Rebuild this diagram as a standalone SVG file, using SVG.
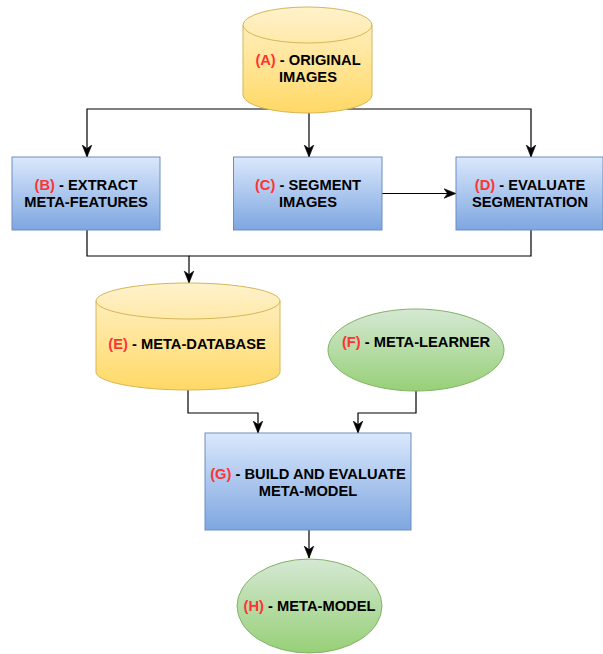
<svg xmlns="http://www.w3.org/2000/svg" width="603" height="654" viewBox="0 0 603 654">
  <defs>
    <linearGradient id="gBlue" x1="0" y1="0" x2="0" y2="1">
      <stop offset="0" stop-color="#dae8fc"/>
      <stop offset="1" stop-color="#7ea6e0"/>
    </linearGradient>
    <linearGradient id="gYellow" x1="0" y1="0" x2="0" y2="1">
      <stop offset="0" stop-color="#fff2cc"/>
      <stop offset="1" stop-color="#ffd966"/>
    </linearGradient>
    <linearGradient id="gGreen" x1="0" y1="0" x2="0" y2="1">
      <stop offset="0" stop-color="#d5e8d4"/>
      <stop offset="1" stop-color="#97d077"/>
    </linearGradient>
    <marker id="arrow" markerUnits="userSpaceOnUse" markerWidth="12" markerHeight="12" viewBox="0 0 10 10" refX="10" refY="5" orient="auto">
      <path d="M0,1 L10,5 L0,9 L3,5 Z" fill="#000" stroke="#000" stroke-width="0.5"/>
    </marker>
    <style>
      .edge { fill: none; stroke: #000; stroke-width: 1.2; }
      .arr { marker-end: url(#arrow); }
      .blue { fill: url(#gBlue); stroke: #6c8ebf; stroke-width: 1; }
      .yellow { fill: url(#gYellow); stroke: #d6b656; stroke-width: 1; }
      .yline { fill: none; stroke: #d6b656; stroke-width: 1; }
      .green { fill: url(#gGreen); stroke: #82b366; stroke-width: 1; }
      text { font-family: "Liberation Sans", Arial, Helvetica, sans-serif; font-size: 14.7px; font-weight: bold; fill: #000; text-anchor: middle; }
      .lbl { fill: #ff3333; }
    </style>
  </defs>

  <g id="connectors">
    <path class="edge arr" d="M309,113 V109 H87 V157"/>
    <path class="edge arr" d="M309,113 V157"/>
    <path class="edge arr" d="M309,109 H531 V157"/>
    <path class="edge arr" d="M382,193.5 H456"/>
    <path class="edge arr" d="M87,230 V256 H189 V283"/>
    <path class="edge" d="M531,230 V256 H189"/>
    <path class="edge arr" d="M188,390 V413 H258 V433"/>
    <path class="edge arr" d="M416,391 V413 H358 V433"/>
    <path class="edge arr" d="M309,530 V558"/>
  </g>

  <g id="nodeA">
    <path class="yellow" d="M243,25 A64.5,18 0 0 1 372,25 V95 A64.5,18 0 0 1 243,95 Z"/>
    <path class="yline" d="M243,25 A64.5,18 0 0 0 372,25"/>
    <text x="308" y="65"><tspan class="lbl">(A)</tspan> - ORIGINAL</text>
    <text x="308" y="82">IMAGES</text>
  </g>

  <g id="nodeB">
    <rect class="blue" x="12" y="157" width="148" height="73"/>
    <text x="86" y="190"><tspan class="lbl">(B)</tspan> - EXTRACT</text>
    <text x="86" y="207">META-FEATURES</text>
  </g>

  <g id="nodeC">
    <rect class="blue" x="233.5" y="157" width="148.5" height="73"/>
    <text x="308" y="190"><tspan class="lbl">(C)</tspan> - SEGMENT</text>
    <text x="308" y="207">IMAGES</text>
  </g>

  <g id="nodeD">
    <rect class="blue" x="456" y="157" width="147" height="73"/>
    <text x="530" y="190"><tspan class="lbl">(D)</tspan> - EVALUATE</text>
    <text x="530" y="207">SEGMENTATION</text>
  </g>

  <g id="nodeE">
    <path class="yellow" d="M96,301 A92,18 0 0 1 280,301 V372 A92,18 0 0 1 96,372 Z"/>
    <path class="yline" d="M96,301 A92,18 0 0 0 280,301"/>
    <text x="187" y="349"><tspan class="lbl">(E)</tspan> - META-DATABASE</text>
  </g>

  <g id="nodeF">
    <ellipse class="green" cx="416" cy="350" rx="88" ry="41"/>
    <text x="416" y="347"><tspan class="lbl">(F)</tspan> - META-LEARNER</text>
  </g>

  <g id="nodeG">
    <rect class="blue" x="205" y="433" width="206" height="97"/>
    <text x="308" y="479"><tspan class="lbl">(G)</tspan> - BUILD AND EVALUATE</text>
    <text x="308" y="496">META-MODEL</text>
  </g>

  <g id="nodeH">
    <ellipse class="green" cx="309.5" cy="606" rx="72.5" ry="47"/>
    <text x="309.5" y="611"><tspan class="lbl">(H)</tspan> - META-MODEL</text>
  </g>
</svg>
